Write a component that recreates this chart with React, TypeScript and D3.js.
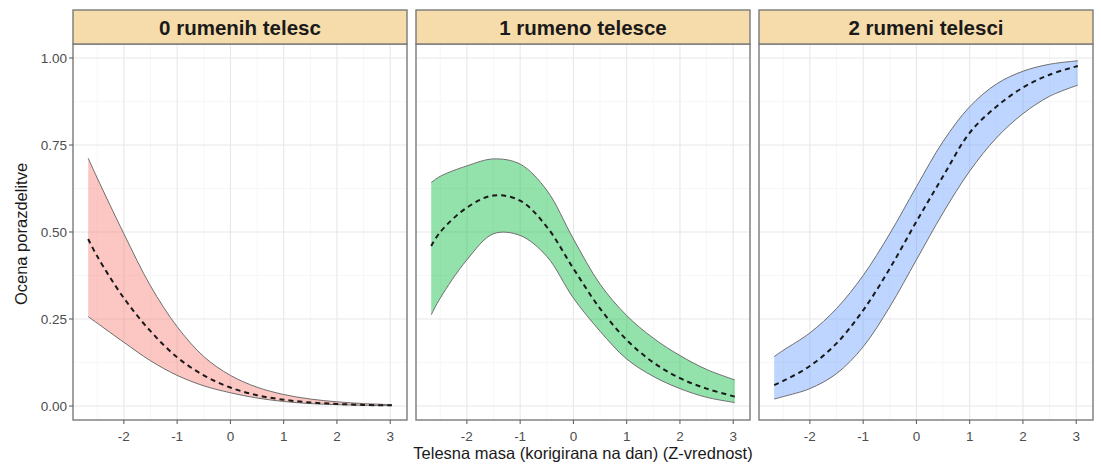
import React from 'react';
import * as d3 from 'd3';

// facet titles and colours
const panels = ['0 rumenih telesc', '1 rumeno telesce', '2 rumeni telesci'];
const fills = ['#F8766D', '#00BA38', '#619CFF'];

const xs = [-2.67, -2.5, -2, -1.5, -1, -0.5, 0, 0.5, 1, 1.5, 2, 2.5, 3.03];

// estimated probability and 95% band, one array per panel
const mean0 = [0.48, 0.43, 0.31, 0.215, 0.14, 0.088, 0.053, 0.031, 0.018, 0.01, 0.006, 0.003, 0.002];
const upper0 = [0.712, 0.655, 0.495, 0.345, 0.228, 0.142, 0.088, 0.054, 0.033, 0.02, 0.012, 0.007, 0.004];
const lower0 = [0.257, 0.238, 0.183, 0.13, 0.088, 0.058, 0.038, 0.023, 0.013, 0.007, 0.004, 0.002, 0.001];

const mean1 = [0.46, 0.5, 0.57, 0.605, 0.59, 0.515, 0.395, 0.28, 0.19, 0.125, 0.08, 0.05, 0.027];
const upper1 = [0.642, 0.66, 0.69, 0.71, 0.695, 0.62, 0.48, 0.35, 0.26, 0.195, 0.145, 0.105, 0.075];
const lower1 = [0.262, 0.31, 0.42, 0.495, 0.49, 0.43, 0.31, 0.215, 0.135, 0.085, 0.05, 0.025, 0.01];

const mean2 = [0.06, 0.072, 0.115, 0.18, 0.275, 0.395, 0.53, 0.66, 0.785, 0.86, 0.915, 0.952, 0.977];
const upper2 = [0.142, 0.16, 0.21, 0.28, 0.375, 0.495, 0.63, 0.76, 0.86, 0.925, 0.962, 0.982, 0.992];
const lower2 = [0.02, 0.027, 0.05, 0.093, 0.17, 0.285, 0.42, 0.555, 0.675, 0.77, 0.84, 0.89, 0.922];

const means = [mean0, mean1, mean2];
const uppers = [upper0, upper1, upper2];
const lowers = [lower0, lower1, lower2];

const xTicks = [-2, -1, 0, 1, 2, 3];
const xMinor = [-2.5, -1.5, -0.5, 0.5, 1.5, 2.5];
const yTicks = [0, 0.25, 0.5, 0.75, 1];
const yMinor = [0.125, 0.375, 0.625, 0.875];

const font = '"Liberation Sans", Arial, sans-serif';

function App() {
  const W = 1101;
  const H = 464;
  const left = 73;
  const panelW = 334;
  const gap = 9;
  const stripTop = 10;
  const stripBottom = 44;
  const panelBottom = 420;

  const y = d3.scaleLinear().domain([0, 1]).range([406, 58]);

  return (
    <svg width={W} height={H} style={{ position: 'absolute', left: 0, top: 0, fontFamily: font }}>
      <rect width={W} height={H} fill="#fff" />
      {panels.map((title, i) => {
        const x0 = left + i * (panelW + gap);
        const x = d3.scaleLinear().domain([-2.955, 3.315]).range([x0, x0 + panelW]);
        const rows = xs.map((v, k) => ({ x: v, m: means[i][k], u: uppers[i][k], l: lowers[i][k] }));
        const curve = d3.curveCatmullRom.alpha(0.5);
        const area = d3.area<any>().x(d => x(d.x)).y0(d => y(d.l)).y1(d => y(d.u)).curve(curve);
        const line = (key: string) => d3.line<any>().x(d => x(d.x)).y(d => y(d[key])).curve(curve)(rows) || '';
        return (
          <g key={title}>
            <rect x={x0} y={stripBottom} width={panelW} height={panelBottom - stripBottom} fill="#fff" />
            {xMinor.map(t => (
              <line key={'xm' + t} x1={x(t)} x2={x(t)} y1={stripBottom} y2={panelBottom} stroke="#f2f2f2" strokeWidth={0.6} />
            ))}
            {yMinor.map(t => (
              <line key={'ym' + t} x1={x0} x2={x0 + panelW} y1={y(t)} y2={y(t)} stroke="#f2f2f2" strokeWidth={0.6} />
            ))}
            {xTicks.map(t => (
              <line key={'xg' + t} x1={x(t)} x2={x(t)} y1={stripBottom} y2={panelBottom} stroke="#e8e8e8" strokeWidth={1.1} />
            ))}
            {yTicks.map(t => (
              <line key={'yg' + t} x1={x0} x2={x0 + panelW} y1={y(t)} y2={y(t)} stroke="#e8e8e8" strokeWidth={1.1} />
            ))}
            <path d={area(rows) || ''} fill={fills[i]} fillOpacity={0.42} />
            <path d={line('u')} fill="none" stroke="#6e6e6e" strokeWidth={1} />
            <path d={line('l')} fill="none" stroke="#6e6e6e" strokeWidth={1} />
            <path d={line('m')} fill="none" stroke="#1a1a1a" strokeWidth={2} strokeDasharray="5,4" />
            <rect x={x0} y={stripBottom} width={panelW} height={panelBottom - stripBottom} fill="none" stroke="#7a7a7a" strokeWidth={1.4} />
            <rect x={x0} y={stripTop} width={panelW} height={stripBottom - stripTop} fill="#F5DCAA" stroke="#7a7a7a" strokeWidth={1.4} />
            <text x={x0 + panelW / 2} y={35} textAnchor="middle" fontSize={20.5} fontWeight="bold" fill="#1a1a1a">
              {title}
            </text>
            {xTicks.map(t => (
              <g key={'xt' + t}>
                <line x1={x(t)} x2={x(t)} y1={panelBottom} y2={panelBottom + 4} stroke="#555" strokeWidth={1} />
                <text x={x(t)} y={441} textAnchor="middle" fontSize={13.5} fill="#4d4d4d">
                  {t < 0 ? '-' + Math.abs(t) : String(t)}
                </text>
              </g>
            ))}
          </g>
        );
      })}
      {yTicks.map(t => (
        <g key={'yt' + t}>
          <line x1={left - 4} x2={left} y1={y(t)} y2={y(t)} stroke="#555" strokeWidth={1} />
          <text x={left - 6} y={y(t) + 4.5} textAnchor="end" fontSize={13.5} fill="#4d4d4d">
            {t.toFixed(2)}
          </text>
        </g>
      ))}
      <text transform={`translate(27,234) rotate(-90)`} textAnchor="middle" fontSize={16.5} fill="#1a1a1a">
        Ocena porazdelitve
      </text>
      <text x={left + (3 * panelW + 2 * gap) / 2} y={459} textAnchor="middle" fontSize={16.5} fill="#1a1a1a">
        Telesna masa (korigirana na dan) (Z-vrednost)
      </text>
    </svg>
  );
}

export default App;
